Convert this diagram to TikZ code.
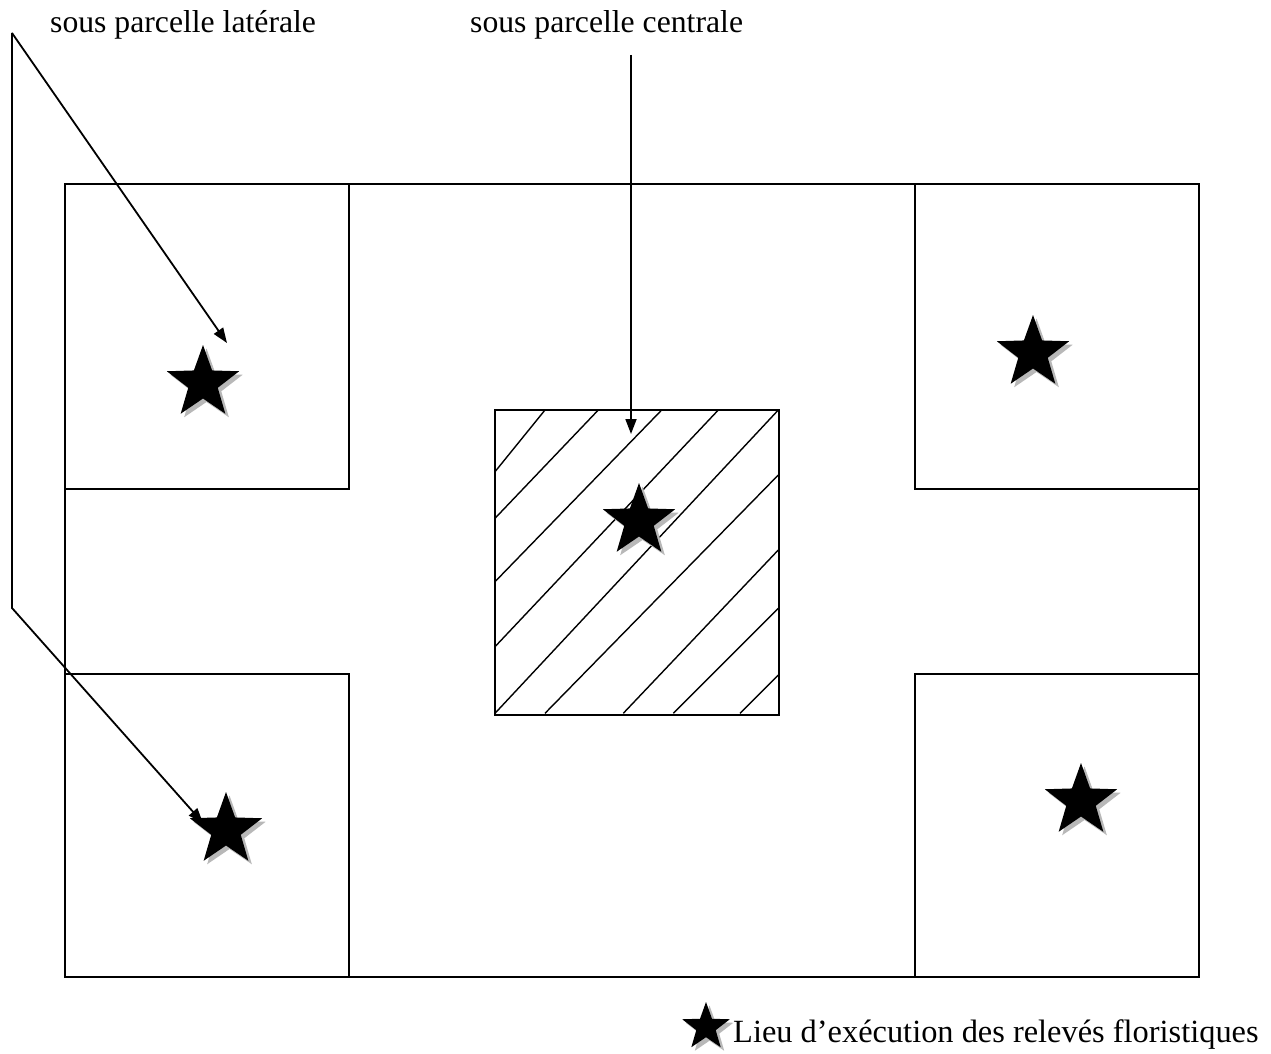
\documentclass[tikz,border=0pt]{standalone}
\usepackage{fontspec}
\setmainfont{Liberation Serif}
\usetikzlibrary{shapes.geometric,arrows.meta}

\tikzset{
  plot/.style={draw=black, line width=1.8pt},
  hatchline/.style={draw=black, line width=1.4pt},
  pointer/.style={draw=black, line width=1.8pt, -{Triangle[length=15pt,width=11pt]}},
  lbl/.style={inner sep=0pt, anchor=base west, font=\fontsize{31.7}{38}\selectfont},
  relstar/.style={star, star points=5, star point ratio=2.45, inner sep=0pt,
                  fill=black, draw=none, minimum size=76pt},
  relshadow/.style={relstar, fill=black!28},
}

% a survey star with its grey drop shadow
\newcommand{\surveystar}[3][76pt]{%
  \node[relshadow, minimum size=#1] at ([shift={(3.5,3.5)}]#3) {};
  \node[relstar, minimum size=#1] (#2) at (#3) {};
}

\begin{document}
\begin{tikzpicture}[x=1pt, y=-1pt]
\useasboundingbox[fill=white] (0,0) rectangle (1271,1054);

% main plot and its sub-plots
\draw[plot] (65,184) rectangle (1199,977);
\draw[plot] (65,184) rectangle (349,489);
\draw[plot] (65,674) rectangle (349,977);
\draw[plot] (915,184) rectangle (1199,489);
\draw[plot] (915,674) rectangle (1199,977);

% central sub-plot, hatched
\draw[hatchline] (495,471.7) -- (545,410);
\draw[hatchline] (495,518.3) -- (598.3,410);
\draw[hatchline] (495,581.7) -- (661.7,410);
\draw[hatchline] (495,646.7) -- (718.3,410);
\draw[hatchline] (495,713.3) -- (778.3,410);
\draw[hatchline] (545,713.3) -- (778.3,475);
\draw[hatchline] (623.3,713.3) -- (778.3,550);
\draw[hatchline] (673.3,713.3) -- (778.3,608.3);
\draw[hatchline] (740,713.3) -- (778.3,675);
\draw[plot] (495,410) rectangle (779,715);

% survey locations
\surveystar{stTL}{203,383}
\surveystar{stTR}{1033,353}
\surveystar{stC}{639,521}
\surveystar{stBL}{226,830}
\surveystar{stBR}{1081,801}

% labels
\node[lbl] (lat) at (50,33) {sous parcelle latérale};
\node[lbl] (cen) at (470,33) {sous parcelle centrale};

% pointers
\coordinate (latTop) at (12,33);
\coordinate (latBend) at (12,608);
\coordinate (latTipA) at (227,343);
\coordinate (latTipB) at (203,823);
\coordinate (cenTop) at (631,55);
\coordinate (cenTip) at (631,434);
\draw[pointer] (latTop) -- (latTipA);
\draw[pointer] (latTop) -- (latBend) -- (latTipB);
\draw[pointer] (cenTop) -- (cenTip);

% legend
\surveystar[50pt]{stLeg}{706,1027}
\node[lbl, font=\fontsize{32.4}{38}\selectfont] (leg) at (733,1042) {Lieu d’exécution des relevés floristiques};
\end{tikzpicture}
\end{document}
